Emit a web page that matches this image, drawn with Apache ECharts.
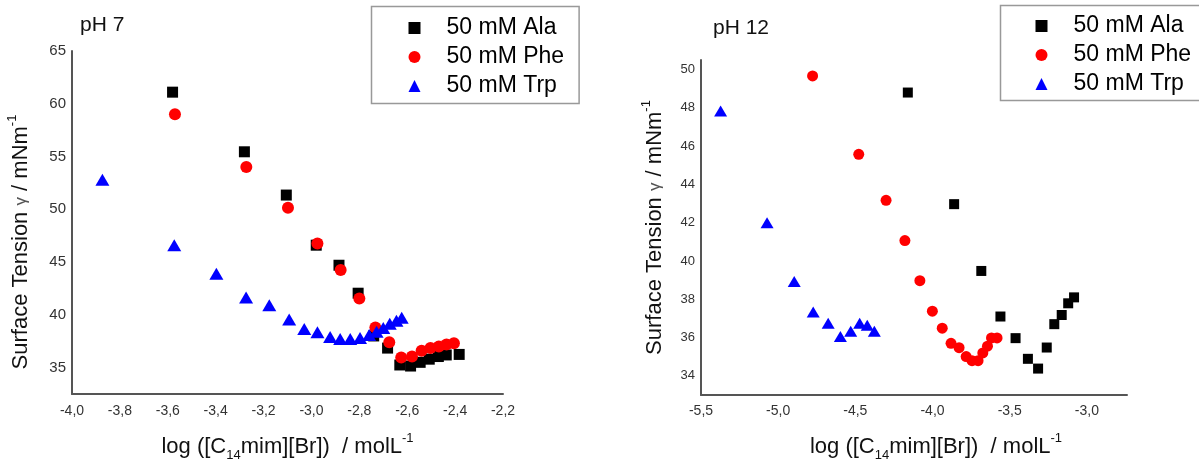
<!DOCTYPE html>
<html>
<head>
<meta charset="utf-8">
<script src="https://cdn.jsdelivr.net/npm/echarts@6/dist/echarts.min.js"></script>
<style>
html,body{margin:0;padding:0;background:#fff;}
#chart{width:1199px;height:467px;}
</style>
</head>
<body>
<div id="chart"></div>
<script>
// ---------- data: pH 7 (left panel) ----------
const seriesNames = ['50 mM Ala', '50 mM Phe', '50 mM Trp'];
const panelTitles = ['pH 7', 'pH 12'];

const ph7AlaX = [-3.58, -3.28, -3.105, -2.98, -2.885, -2.805, -2.74, -2.682, -2.631, -2.586, -2.546, -2.508, -2.47, -2.437, -2.383];
const ph7AlaY = [61.1, 55.45, 51.35, 46.6, 44.7, 42.05, 38.0, 36.85, 35.25, 35.15, 35.5, 35.8, 36.05, 36.2, 36.25];
const ph7PheX = [-3.57, -3.272, -3.098, -2.975, -2.878, -2.8, -2.733, -2.675, -2.625, -2.58, -2.54, -2.503, -2.468, -2.436, -2.405];
const ph7PheY = [59.0, 54.0, 50.15, 46.75, 44.25, 41.55, 38.8, 37.4, 35.95, 36.05, 36.6, 36.85, 37.0, 37.2, 37.3];
const ph7TrpX = [-3.873, -3.573, -3.397, -3.273, -3.176, -3.093, -3.03, -2.975, -2.922, -2.88, -2.838, -2.797, -2.759, -2.728, -2.7, -2.673, -2.645, -2.623];
const ph7TrpY = [52.8, 46.6, 43.9, 41.65, 40.9, 39.55, 38.65, 38.35, 37.9, 37.7, 37.72, 37.8, 38.1, 38.4, 38.75, 39.15, 39.45, 39.73];

// ---------- data: pH 12 (right panel) ----------
const ph12AlaX = [-4.16, -3.86, -3.684, -3.56, -3.462, -3.382, -3.316, -3.26, -3.211, -3.163, -3.121, -3.083];
const ph12AlaY = [48.8, 42.97, 39.48, 37.1, 35.97, 34.89, 34.38, 35.48, 36.7, 37.18, 37.79, 38.1];
const ph12PheX = [-4.777, -4.478, -4.301, -4.179, -4.082, -4.001, -3.937, -3.88, -3.828, -3.782, -3.744, -3.705, -3.674, -3.644, -3.618, -3.582];
const ph12PheY = [49.67, 45.57, 43.17, 41.07, 38.97, 37.38, 36.49, 35.7, 35.47, 35.01, 34.79, 34.79, 35.2, 35.55, 35.98, 35.98];
const ph12TrpX = [-5.373, -5.072, -4.896, -4.773, -4.676, -4.597, -4.53, -4.472, -4.423, -4.377];
const ph12TrpY = [47.83, 42.0, 38.93, 37.33, 36.75, 36.05, 36.33, 36.75, 36.64, 36.33];

// ---------- axis ranges ----------
const leftX = {min: -4.0, max: -2.2, interval: 0.2};
const leftY = {min: 32.5, max: 65, interval: 2.5, labelStep: 5};
const rightX = {min: -5.5, max: -2.74, interval: 0.5};
const rightY = {min: 33, max: 50.5, interval: 1, labelStep: 2};

const FONT = "'Liberation Sans', Arial, Helvetica, sans-serif";
const zip = (xs, ys) => xs.map((x, i) => [x, ys[i]]);
const isMult = (v, step) => Math.abs(v / step - Math.round(v / step)) < 1e-6;
const commaFmt = v => v.toFixed(1).replace('.', ',');

const chart = echarts.init(document.getElementById('chart'), null, {renderer: 'canvas'});

const axisLineStyle = {show: true, lineStyle: {color: '#555', width: 2}};
const xName = '{a|log ([C}{s|14}{a|mim][Br])  / molL}{p|-1}';
const yName = '{a|Surface Tension }{g|γ}{a| / mNm}{p|-1}';
const nameRich = {
  a: {fontSize: 22, lineHeight: 30, fontFamily: FONT, color: '#111'},
  s: {fontSize: 13, verticalAlign: 'bottom', fontFamily: FONT, color: '#111'},
  p: {fontSize: 13, verticalAlign: 'top', fontFamily: FONT, color: '#111'},
  g: {fontSize: 17, fontFamily: FONT, color: '#555'}
};

const colors = ['#000000', '#ff0000', '#0000ff'];
const symbols = ['rect', 'circle', 'triangle'];

function mkSeries(name, data, idx, panel) {
  const sizesL = [11, 12, [14, 12]];
  const sizesR = [10, 11, [13, 11]];
  return {
    name: name, type: 'scatter',
    xAxisIndex: panel, yAxisIndex: panel,
    data: data,
    symbol: symbols[idx],
    symbolSize: panel === 0 ? sizesL[idx] : sizesR[idx],
    itemStyle: {color: colors[idx], opacity: 1},
    emphasis: {disabled: true}
  };
}

const legendData = seriesNames.map((n, i) => ({name: n, icon: symbols[i]}));
const legendCommon = {
  orient: 'vertical',
  data: legendData,
  itemWidth: 12, itemHeight: 12, itemGap: 6,
  symbolKeepAspect: true,
  borderColor: '#999', borderWidth: 1.5,
  textStyle: {fontSize: 23, color: '#000', fontFamily: FONT, padding: [0, 0, 0, 21]},
  selectedMode: false
};

const option = {
  animation: false,
  backgroundColor: '#fff',
  textStyle: {fontFamily: FONT},
  title: [
    {text: panelTitles[0], left: 80, top: 15, padding: 0,
     textStyle: {fontSize: 21, fontWeight: 'normal', color: '#111', fontFamily: FONT}},
    {text: panelTitles[1], left: 713, top: 18, padding: 0,
     textStyle: {fontSize: 21, fontWeight: 'normal', color: '#111', fontFamily: FONT}}
  ],
  legend: [
    Object.assign({}, legendCommon, {left: 371.5, top: 6.5, padding: [10, 15, 6, 37]}),
    Object.assign({}, legendCommon, {left: 1000.5, top: 5.5, padding: [9, 15, 5, 35]})
  ],
  grid: [
    {left: 72, top: 51, width: 431, height: 344},
    {left: 701, top: 60, width: 426, height: 336}
  ],
  xAxis: [
    {type: 'value', gridIndex: 0, min: leftX.min, max: leftX.max, interval: leftX.interval,
     axisLine: axisLineStyle, axisTick: {show: false}, splitLine: {show: false},
     axisLabel: {fontSize: 14, color: '#333', margin: 10, fontFamily: FONT, formatter: v => commaFmt(v)},
     name: xName, nameLocation: 'middle', nameGap: 38,
     nameTextStyle: {rich: nameRich}},
    {type: 'value', gridIndex: 1, min: rightX.min, max: rightX.max, interval: rightX.interval,
     axisLine: axisLineStyle, axisTick: {show: false}, splitLine: {show: false},
     axisLabel: {fontSize: 14, color: '#333', margin: 9, fontFamily: FONT,
       formatter: v => isMult(v, rightX.interval) ? commaFmt(v) : ''},
     name: xName, nameLocation: 'middle', nameGap: 37,
     nameTextStyle: {rich: nameRich, padding: [0, 0, 0, 44]}}
  ],
  yAxis: [
    {type: 'value', gridIndex: 0, min: leftY.min, max: leftY.max, interval: leftY.interval,
     axisLine: axisLineStyle, axisTick: {show: false}, splitLine: {show: false},
     axisLabel: {fontSize: 15, color: '#333', margin: 6, fontFamily: FONT,
       formatter: v => isMult(v, leftY.labelStep) ? String(Math.round(v)) : ''},
     name: yName, nameLocation: 'middle', nameGap: 36, nameRotate: 90,
     nameTextStyle: {rich: nameRich, padding: [0, 39, 0, 0]}},
    {type: 'value', gridIndex: 1, min: rightY.min, max: rightY.max, interval: rightY.interval,
     axisLine: axisLineStyle, axisTick: {show: false}, splitLine: {show: false},
     axisLabel: {fontSize: 13, color: '#333', margin: 6, fontFamily: FONT,
       formatter: v => isMult(v, rightY.labelStep) ? String(Math.round(v)) : ''},
     name: yName, nameLocation: 'middle', nameGap: 31, nameRotate: 90,
     nameTextStyle: {rich: nameRich}}
  ],
  series: [
    mkSeries(seriesNames[0], zip(ph7AlaX, ph7AlaY), 0, 0),
    mkSeries(seriesNames[1], zip(ph7PheX, ph7PheY), 1, 0),
    mkSeries(seriesNames[2], zip(ph7TrpX, ph7TrpY), 2, 0),
    mkSeries(seriesNames[0], zip(ph12AlaX, ph12AlaY), 0, 1),
    mkSeries(seriesNames[1], zip(ph12PheX, ph12PheY), 1, 1),
    mkSeries(seriesNames[2], zip(ph12TrpX, ph12TrpY), 2, 1)
  ]
};
chart.setOption(option);
</script>
</body>
</html>
